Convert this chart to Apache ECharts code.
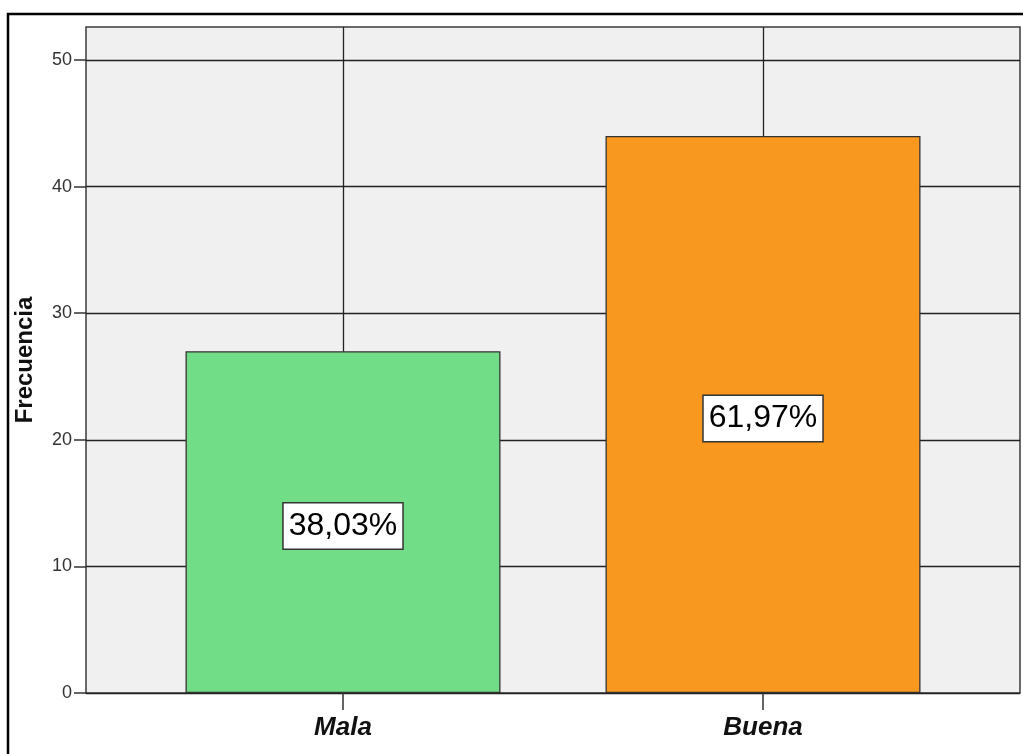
<!DOCTYPE html>
<html>
<head>
<meta charset="utf-8">
<script src="https://cdn.jsdelivr.net/npm/echarts@6/dist/echarts.min.js"></script>
<style>
html,body{margin:0;padding:0;background:#fff;}
#chart{width:1023px;height:754px;}
</style>
</head>
<body>
<div id="chart"></div>
<script>
var categories = ['Mala', 'Buena'];
var frequencies = [27, 44];
var percentLabels = ['38,03%', '61,97%'];
var barColors = ['#71dd86', '#f8981e'];
var yTicks = [0, 10, 20, 30, 40, 50];

var chart = echarts.init(document.getElementById('chart'));
var option = {
  animation: false,
  backgroundColor: '#ffffff',
  graphic: [{
    type: 'rect',
    shape: { x: 8, y: 14, width: 1030, height: 760 },
    style: { fill: 'none', stroke: '#000', lineWidth: 2.5 },
    z: 100
  }],
  grid: [
    { left: 86, right: 3, top: 27, bottom: 61, show: true, backgroundColor: '#f0f0f0', borderColor: '#3a3a3a', borderWidth: 1.5 },
    { left: 343, right: 260, top: 27, bottom: 61 }
  ],
  xAxis: [
    { gridIndex: 0, type: 'value', min: 0, max: 1, show: false },
    {
      gridIndex: 1, type: 'category', data: categories, boundaryGap: false,
      axisLine: { show: false },
      axisTick: { show: true, length: 17, lineStyle: { color: '#333', width: 1.5 } },
      splitLine: { show: true, lineStyle: { color: '#222', width: 1.3 } },
      axisLabel: { margin: 22, fontFamily: 'Liberation Sans', fontSize: 26, fontWeight: 'bold', fontStyle: 'italic', color: '#111' }
    }
  ],
  yAxis: [
    {
      gridIndex: 0, type: 'value', min: 0, max: 52.6, interval: 10,
      axisLine: { show: false },
      axisTick: { show: true, length: 12, customValues: yTicks, lineStyle: { color: '#333', width: 1.5 } },
      axisLabel: { margin: 14, customValues: yTicks, fontFamily: 'Liberation Sans', fontSize: 18, color: '#333' },
      splitLine: { show: true, lineStyle: { color: '#222', width: 1.3 } },
      name: 'Frecuencia', nameLocation: 'middle', nameGap: 49,
      nameTextStyle: { fontFamily: 'Liberation Sans', fontSize: 24, fontWeight: 'bold', color: '#111' }
    },
    { gridIndex: 1, type: 'value', min: 0, max: 52.6, show: false }
  ],
  series: [{
    type: 'bar',
    xAxisIndex: 1, yAxisIndex: 1,
    barWidth: 315,
    clip: false,
    data: frequencies.map(function (v, i) {
      return { value: v, itemStyle: { color: barColors[i] } };
    }),
    itemStyle: { borderColor: '#333', borderWidth: 1.3 },
    label: {
      show: true, position: 'inside', offset: [0, 4],
      formatter: function (p) { return percentLabels[p.dataIndex]; },
      fontFamily: 'Liberation Sans', fontSize: 32, color: '#000',
      backgroundColor: '#fff', borderColor: '#333', borderWidth: 1.5,
      padding: [7, 5, 6, 5]
    }
  }]
};
chart.setOption(option);
</script>
</body>
</html>
